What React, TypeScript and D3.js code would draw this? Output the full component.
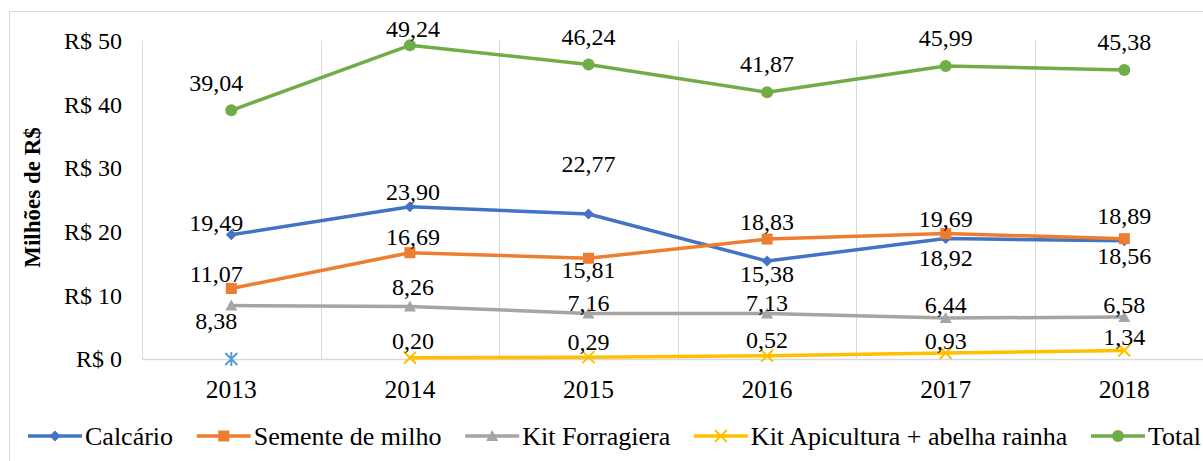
import React, { useEffect, useRef } from "react";
import * as d3 from "d3";

const years = ["2013", "2014", "2015", "2016", "2017", "2018"];
const calcario = [19.49, 23.9, 22.77, 15.38, 18.92, 18.56];
const sementeMilho = [11.07, 16.69, 15.81, 18.83, 19.69, 18.89];
const kitForragiera = [8.38, 8.26, 7.16, 7.13, 6.44, 6.58];
const kitApicultura: (number | null)[] = [null, 0.2, 0.29, 0.52, 0.93, 1.34];
const total = [39.04, 49.24, 46.24, 41.87, 45.99, 45.38];
const apiculturaStart = [{ year: "2013", value: 0 }];
const yTicks = [0, 10, 20, 30, 40, 50];

// label placement (dy from point, in px)
const labelDy = {
  calcario: [-12, -15, -50, 13, 19, 15],
  semente: [-15, -16, 11, -17, -15, -23],
  forr: [15, -20, -11, -11, -13, -12],
  api: [0, -17, -16, -16, -12, -14],
  total: [-28, -28, -28, -29, -28, -28],
};
const labelDx = [-15, 3, 0, 0, 0, 0];

const series = [
  { name: "Calcário", key: "calcario", values: calcario as (number | null)[], color: "#4472C4", marker: "diamond" },
  { name: "Semente de milho", key: "semente", values: sementeMilho as (number | null)[], color: "#ED7D31", marker: "square" },
  { name: "Kit Forragiera", key: "forr", values: kitForragiera as (number | null)[], color: "#A5A5A5", marker: "triangle" },
  { name: "Kit Apicultura + abelha rainha", key: "api", values: kitApicultura, color: "#FFC000", marker: "x" },
  { name: "Total", key: "total", values: total as (number | null)[], color: "#70AD47", marker: "circle" },
];

function drawMarker(g: any, type: string, x: number, y: number, color: string) {
  if (type === "circle") {
    g.append("circle").attr("cx", x).attr("cy", y).attr("r", 6).attr("fill", color);
  } else if (type === "square") {
    g.append("rect").attr("x", x - 5.5).attr("y", y - 5.5).attr("width", 11).attr("height", 11).attr("fill", color);
  } else if (type === "diamond") {
    g.append("path").attr("d", `M${x},${y - 5.5}L${x + 5.5},${y}L${x},${y + 5.5}L${x - 5.5},${y}Z`).attr("fill", color);
  } else if (type === "triangle") {
    g.append("path").attr("d", `M${x},${y - 6}L${x + 6},${y + 5}L${x - 6},${y + 5}Z`).attr("fill", color);
  } else if (type === "x") {
    g.append("path").attr("d", `M${x - 6},${y - 6}L${x + 6},${y + 6}M${x + 6},${y - 6}L${x - 6},${y + 6}`)
      .attr("stroke", color).attr("stroke-width", 2).attr("fill", "none");
  } else if (type === "asterisk") {
    g.append("path").attr("d", `M${x},${y - 7}L${x},${y + 7}M${x - 6},${y - 6}L${x + 6},${y + 6}M${x + 6},${y - 6}L${x - 6},${y + 6}`)
      .attr("stroke", color).attr("stroke-width", 2).attr("fill", "none");
  }
}

export default function App() {
  const ref = useRef<SVGSVGElement>(null);
  useEffect(() => {
    const svg = d3.select(ref.current);
    svg.selectAll("*").remove();
    const W = 1203, H = 461;
    const left = 142, top = 40.5, bottom = 359;
    const band = 178.6;
    const x = d3.scaleBand().domain(years).range([left, left + band * years.length]).padding(0);
    const y = d3.scaleLinear().domain([0, 50]).range([bottom, top]);
    const cx = (d: string) => (x(d) as number) + x.bandwidth() / 2;
    const serif = "'Liberation Serif', 'Times New Roman', Times, serif";

    // outer frame
    svg.append("rect").attr("x", 9.5).attr("y", 11.5).attr("width", W + 20).attr("height", H + 20)
      .attr("fill", "white").attr("stroke", "#D9D9D9").attr("stroke-width", 1);

    // vertical gridlines
    const grid = svg.append("g");
    d3.range(years.length + 1).forEach((i) => {
      const gx = Math.round(left + band * i) + 0.5;
      grid.append("line").attr("x1", gx).attr("x2", gx).attr("y1", top).attr("y2", bottom)
        .attr("stroke", "#D9D9D9").attr("stroke-width", 1);
    });
    grid.append("line").attr("x1", left).attr("x2", W).attr("y1", bottom + 0.5).attr("y2", bottom + 0.5)
      .attr("stroke", "#D9D9D9").attr("stroke-width", 1.5);

    // y tick labels
    svg.append("g").selectAll("text").data(yTicks).join("text")
      .attr("x", 122).attr("y", (d) => y(d)).attr("dy", "0.35em").attr("text-anchor", "end")
      .style("font-family", serif).attr("font-size", 24).attr("fill", "#000")
      .text((d) => `R$ ${d}`);

    // y title
    svg.append("text").attr("transform", `translate(40,${(122 + 273) / 2}) rotate(-90)`)
      .attr("text-anchor", "middle").style("font-family", serif).attr("font-weight", "bold")
      .attr("font-size", 23).attr("fill", "#000").text("Milhões de R$");

    // x labels
    svg.append("g").selectAll("text").data(years).join("text")
      .attr("x", (d) => cx(d)).attr("y", 398).attr("text-anchor", "middle")
      .style("font-family", serif).attr("font-size", 25.5).attr("fill", "#000").text((d) => d);

    // lines
    const lineGen = d3.line<number | null>()
      .defined((d) => d !== null)
      .x((_, i) => cx(years[i]))
      .y((d) => y(d as number));
    series.forEach((s) => {
      svg.append("path").attr("d", lineGen(s.values) as string).attr("fill", "none")
        .attr("stroke", s.color).attr("stroke-width", 3.5).attr("stroke-linejoin", "round");
    });
    // markers
    series.forEach((s) => {
      const g = svg.append("g");
      s.values.forEach((v, i) => {
        if (v === null) return;
        drawMarker(g, s.marker, cx(years[i]), y(v), s.color);
      });
    });
    apiculturaStart.forEach((p) => drawMarker(svg.append("g"), "asterisk", cx(p.year), y(p.value), "#5B9BD5"));

    // data labels
    series.forEach((s) => {
      const dys = (labelDy as any)[s.key] as number[];
      s.values.forEach((v, i) => {
        if (v === null) return;
        let ly = y(v) + dys[i];
        if (ly < 29) ly = 29;
        svg.append("text").attr("x", cx(years[i]) + labelDx[i]).attr("y", ly).attr("dy", "0.35em")
          .attr("text-anchor", "middle").style("font-family", serif).attr("font-size", 24).attr("fill", "#000")
          .text(d3.format(".2f")(v).replace(".", ","));
      });
    });

    // legend
    const lg = svg.append("g");
    const ly = 436;
    const lineW = 54;
    const widths: number[] = [];
    const texts: any[] = [];
    series.forEach((s) => {
      const t = lg.append("text").attr("y", ly).attr("dy", "0.35em").style("font-family", serif)
        .attr("font-size", 26).attr("fill", "#000").text(s.name);
      texts.push(t);
      widths.push((t.node() as SVGTextElement).getComputedTextLength());
    });
    const startX = 28;
    const lastTextX = 1148;
    const used = series.slice(0, -1).reduce((a, _, i) => a + lineW + 3 + widths[i], 0);
    const gap = (lastTextX - lineW - 3 - startX - used) / (series.length - 1);
    let cur = startX;
    series.forEach((s, i) => {
      lg.append("line").attr("x1", cur).attr("x2", cur + lineW).attr("y1", ly).attr("y2", ly)
        .attr("stroke", s.color).attr("stroke-width", 3.5);
      drawMarker(lg, s.marker, cur + lineW / 2, ly, s.color);
      texts[i].attr("x", cur + lineW + 3);
      cur += lineW + 3 + widths[i] + gap;
    });
  }, []);
  return (
    <svg ref={ref} width={1203} height={461}
      style={{ position: "absolute", left: 0, top: 0, background: "white" }} />
  );
}
